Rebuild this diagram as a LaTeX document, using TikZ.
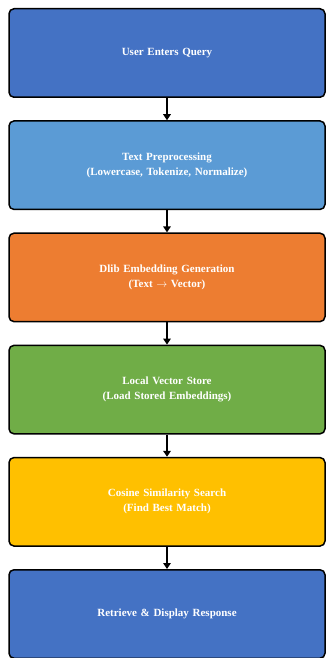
\documentclass[tikz,border=0pt]{standalone}
\usepackage{fontspec}
\setmainfont{Liberation Serif}
\usepackage{xcolor}
\usetikzlibrary{arrows.meta,positioning}
\definecolor{qblue}{HTML}{4472C4}
\definecolor{qlightblue}{HTML}{5B9BD5}
\definecolor{qorange}{HTML}{ED7D31}
\definecolor{qgreen}{HTML}{70AD47}
\definecolor{qgold}{HTML}{FFC000}
\tikzset{
  stage/.style={draw, line width=1.5pt, rounded corners=5pt, align=center,
                minimum width=316pt, minimum height=88.5pt, text width=300pt,
                inner sep=0pt, text=white, font=\fontsize{11}{15}\selectfont\bfseries},
  stagearrow/.style={-{Triangle[length=6pt, width=7.5pt]}, line width=1.6pt}
}

\begin{document}
\begin{tikzpicture}[node distance=22.2pt]
\useasboundingbox (0,0) rectangle (326pt,-658pt);
\node[stage, fill=qblue, anchor=north] (query) at (167pt,-8pt) {User Enters Query};
\node[stage, fill=qlightblue, below=of query] (prep) {Text Preprocessing\\(Lowercase, Tokenize, Normalize)};
\node[stage, fill=qorange, below=of prep] (embed) {Dlib Embedding Generation\\(Text $\rightarrow$ Vector)};
\node[stage, fill=qgreen, below=of embed] (store) {Local Vector Store\\(Load Stored Embeddings)};
\node[stage, fill=qgold, below=of store] (search) {Cosine Similarity Search\\(Find Best Match)};
\node[stage, fill=qblue, below=of search] (resp) {Retrieve \& Display Response};
\draw[stagearrow] (query) -- (prep);
\draw[stagearrow] (prep) -- (embed);
\draw[stagearrow] (embed) -- (store);
\draw[stagearrow] (store) -- (search);
\draw[stagearrow] (search) -- (resp);
\end{tikzpicture}
\end{document}
